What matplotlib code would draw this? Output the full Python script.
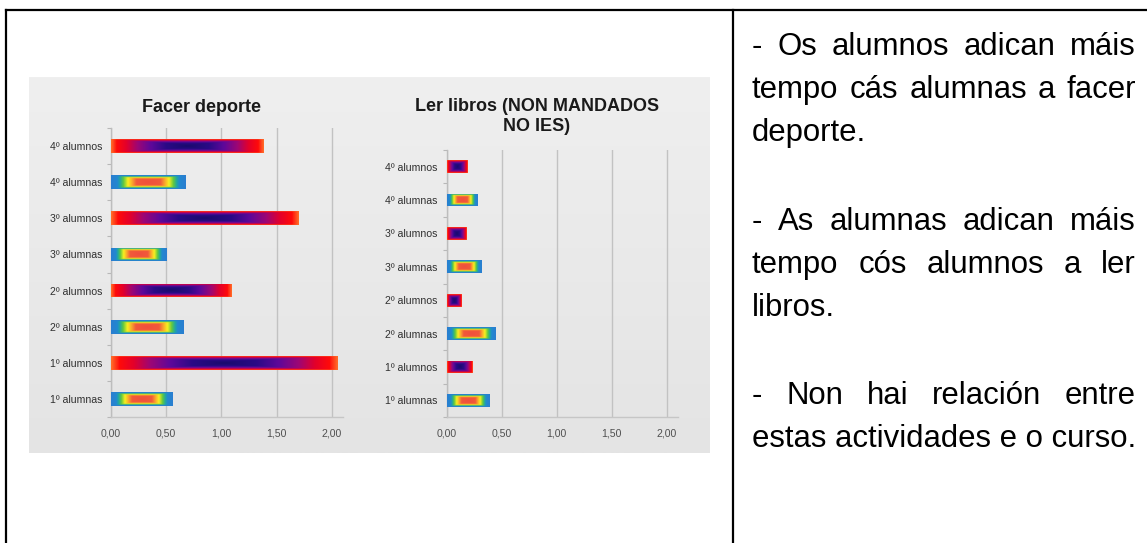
import numpy as np
import matplotlib
matplotlib.use('Agg')
import matplotlib.pyplot as plt
from matplotlib.colors import LinearSegmentedColormap
from matplotlib.transforms import IdentityTransform
from matplotlib.lines import Line2D

plt.rcParams['font.family'] = ['Liberation Sans', 'DejaVu Sans']

# ---------------- data ----------------
categories = ['1º alumnas', '1º alumnos', '2º alumnas', '2º alumnos',
              '3º alumnas', '3º alumnos', '4º alumnas', '4º alumnos']
deporte = [0.56, 2.05, 0.66, 1.09, 0.50, 1.70, 0.675, 1.38]
libros = [0.39, 0.23, 0.44, 0.13, 0.31, 0.18, 0.28, 0.19]
xticks = [0.0, 0.5, 1.0, 1.5, 2.0]
xtick_labels = ['0,00', '0,50', '1,00', '1,50', '2,00']
title_deporte = 'Facer deporte'
title_libros = 'Ler libros (NON MANDADOS\nNO IES)'
paragraphs = [
    ['- Os alumnos adican máis', 'tempo cás alumnas a facer', 'deporte.'],
    ['- As alumnas adican máis', 'tempo cós alumnos a ler', 'libros.'],
    ['- Non hai relación entre', 'estas actividades e o curso.'],
]

W, H = 1147, 543
fig = plt.figure(figsize=(W / 100, H / 100), dpi=100)
fig.patch.set_facecolor('white')


def px_rect(l, t, r, b):
    return [l / W, 1 - b / H, (r - l) / W, (b - t) / H]


# ---------------- gray panel ----------------
bg = fig.add_axes(px_rect(29, 77, 710, 453))
grad = np.linspace(0, 1, 256).reshape(-1, 1)
bg_cmap = LinearSegmentedColormap.from_list('bg', ['#efefef', '#e4e4e4'])
bg.imshow(grad, aspect='auto', cmap=bg_cmap, extent=[0, 1, 0, 1], origin='upper')
bg.axis('off')

cm_m = LinearSegmentedColormap.from_list('m', [
    (0.0, '#1a0a6e'), (0.28, '#2a0a86'), (0.48, '#5e089a'), (0.66, '#9e0674'),
    (0.8, '#e2002c'), (0.93, '#ff0a0a'), (1.0, '#ff6a28')])
cm_f = LinearSegmentedColormap.from_list('f', [
    (0.0, '#f0503c'), (0.32, '#f25a3a'), (0.45, '#fbb02a'), (0.55, '#f8f020'),
    (0.67, '#60c840'), (0.76, '#20a8a0'), (0.83, '#2288d0'), (1.0, '#2a7ed0')])

ny, nx = 40, 200
yy, xx = np.mgrid[-1:1:complex(0, ny), -1:1:complex(0, nx)]
dist = np.maximum(np.abs(xx), np.abs(yy) ** 1.5)


def draw_chart(rect, values, title, title_xy):
    ax = fig.add_axes(px_rect(*rect))
    ax.patch.set_visible(False)
    ypos = np.arange(len(categories))
    bars = ax.barh(ypos, values, height=0.38, color='none', edgecolor='none', zorder=3)
    for bar, cat in zip(bars, categories):
        x0, y0 = bar.get_x(), bar.get_y()
        w, h = bar.get_width(), bar.get_height()
        cmap = cm_m if 'alumnos' in cat else cm_f
        im = ax.imshow(dist, cmap=cmap, vmin=0, vmax=1, aspect='auto',
                       extent=[x0, x0 + w, y0, y0 + h], interpolation='bilinear',
                       zorder=3)
        im.set_clip_path(bar)
    ax.set_xlim(0, 2.1)
    ax.set_ylim(-0.5, len(categories) - 0.5)
    ax.set_yticks(ypos)
    ax.set_yticklabels(categories)
    ax.set_yticks(np.arange(-0.5, len(categories), 1), minor=True)
    ax.tick_params(axis='y', which='major', length=0, pad=6.5, labelsize=7.6,
                   labelcolor='#303030')
    ax.tick_params(axis='y', which='minor', length=3, color='#b8b8b8', width=0.8)
    ax.set_xticks(xticks)
    ax.set_xticklabels(xtick_labels)
    ax.tick_params(axis='x', length=0, pad=8, labelsize=7.6, labelcolor='#505050')
    ax.grid(axis='x', color='#c2c2c2', lw=1.0)
    ax.set_axisbelow(True)
    for s in ('top', 'right'):
        ax.spines[s].set_visible(False)
    ax.spines['left'].set_color('#bdbdbd')
    ax.spines['bottom'].set_color('#c6c6c6')
    ax.spines['left'].set_linewidth(1.0)
    ax.spines['bottom'].set_linewidth(1.0)
    fig.text(title_xy[0], H - title_xy[1], title, transform=IdentityTransform(),
             ha='center', va='center', fontsize=13, fontweight='bold',
             color='#1a1a1a', linespacing=1.25, multialignment='center')
    return ax


draw_chart((111, 128, 343, 417), deporte, title_deporte, (202, 107))
draw_chart((446.7, 150, 677.7, 417), libros, title_libros, (537, 116.5))

# ---------------- table borders ----------------
lw = 1.6
fig.add_artist(Line2D([6 / W, 1.0], [1 - 10 / H, 1 - 10 / H], color='black', lw=lw))
fig.add_artist(Line2D([6 / W, 6 / W], [1 - 10 / H, 0.0], color='black', lw=lw))
fig.add_artist(Line2D([733 / W, 733 / W], [1 - 10 / H, 0.0], color='black', lw=lw))

# ---------------- justified text ----------------
renderer = fig.canvas.get_renderer()
left_px, right_px = 752, 1136
baselines = [[55, 98, 141], [230, 273, 316], [404, 447]]
fs = 22.4
for para, bls in zip(paragraphs, baselines):
    for i, (line, yb) in enumerate(zip(para, bls)):
        last = (i == len(para) - 1)
        if last:
            fig.text(left_px, H - yb, line, transform=IdentityTransform(),
                     ha='left', va='baseline', fontsize=fs, color='black')
            continue
        words = line.split(' ')
        texts = [fig.text(0, H - yb, w, transform=IdentityTransform(), ha='left',
                          va='baseline', fontsize=fs, color='black') for w in words]
        widths = [t.get_window_extent(renderer).width for t in texts]
        gap = (right_px - left_px - sum(widths)) / (len(words) - 1)
        x = left_px
        for t, wdt in zip(texts, widths):
            t.set_x(x)
            x += wdt + gap

fig.savefig('out.png', dpi=100)
